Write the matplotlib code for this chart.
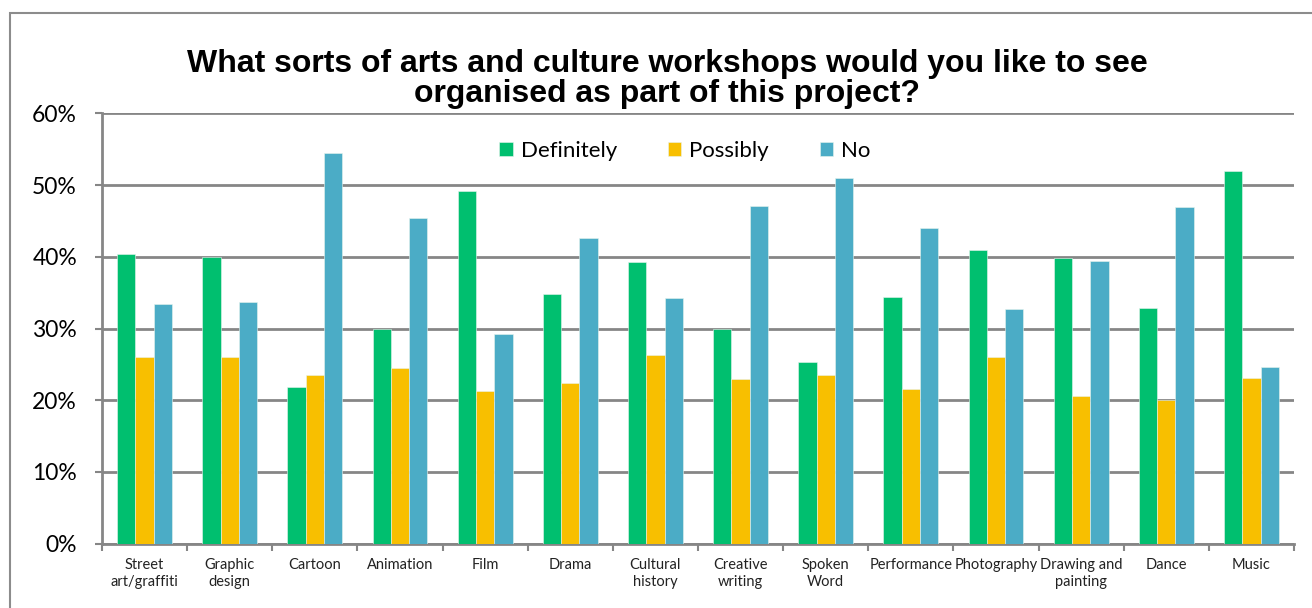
import matplotlib
matplotlib.use('Agg')
import matplotlib.pyplot as plt
import numpy as np
from matplotlib.patches import Rectangle
from matplotlib.ticker import PercentFormatter

# survey answers, percent of respondents
categories = ['Street\nart/graffiti', 'Graphic\ndesign', 'Cartoon', 'Animation', 'Film',
              'Drama', 'Cultural\nhistory', 'Creative\nwriting', 'Spoken\nWord',
              'Performance', 'Photography', 'Drawing and\npainting', 'Dance', 'Music']
definitely = [40.4, 40.0, 21.9, 29.9, 49.2, 34.8, 39.3, 29.9, 25.3, 34.4, 40.9, 39.8, 32.8, 52.0]
possibly = [26.0, 26.0, 23.5, 24.5, 21.3, 22.4, 26.3, 23.0, 23.5, 21.5, 26.0, 20.6, 20.0, 23.1]
no = [33.4, 33.7, 54.5, 45.4, 29.3, 42.6, 34.2, 47.1, 51.0, 44.0, 32.7, 39.4, 46.9, 24.7]

series = [('Definitely', definitely, '#00BF6F'),
          ('Possibly', possibly, '#F8BF00'),
          ('No', no, '#4BACC6')]

W, H = 1312, 608
fig = plt.figure(figsize=(W / 100, H / 100), dpi=100)
ax = fig.add_axes([102.0 / W, 1 - 543.7 / H, (1294 - 102.0) / W, (543.7 - 113.3) / H])

# outer chart frame
fig.patches.append(Rectangle((9.5 / W, -0.1), 1.2, 1 - 13.3 / H + 0.1, transform=fig.transFigure,
                             fill=False, edgecolor='#8c8c8c', linewidth=1.5))

x = np.arange(len(categories))
bw = 0.215
for i, (name, vals, col) in enumerate(series):
    ax.bar(x + (i - 1) * bw, vals, bw, color=col, label=name, zorder=3,
           edgecolor='#e8f4ee', linewidth=0.4)

ax.set_xlim(-0.5, len(categories) - 0.5)
ax.set_ylim(0, 60)
ax.set_yticks(range(0, 61, 10))
ax.yaxis.set_major_formatter(PercentFormatter(decimals=0))
ax.grid(axis='y', color='#868686', linewidth=2, zorder=0)

ax.set_xticks(x)
ax.set_xticklabels(categories, fontsize=10.5, family='Lato', color='#222222', linespacing=1.35)
ax.set_xticks(np.arange(-0.5, len(categories)), minor=True)
ax.tick_params(axis='x', which='major', length=0, pad=10)
ax.tick_params(axis='x', which='minor', length=5, width=1.5, color='#868686')
ax.tick_params(axis='y', length=5, width=1.5, color='#868686', labelsize=16.5, pad=13)
for lab in ax.get_yticklabels():
    lab.set_family('Lato')

for side in ['top', 'right']:
    ax.spines[side].set_visible(False)
for side in ['left', 'bottom']:
    ax.spines[side].set_color('#868686')
    ax.spines[side].set_linewidth(2)

ax.legend(loc='center', bbox_to_anchor=(0.489, 0.912), ncol=3, frameon=False,
          prop={'family': 'Lato', 'size': 16}, handlelength=0.6, handleheight=0.6,
          columnspacing=2.3, handletextpad=0.35)

fig.text(667 / W, 1 - 79 / H,
         'What sorts of arts and culture workshops would you like to see\norganised as part of this project?',
         ha='center', va='center', fontsize=23, fontweight='bold', family='Liberation Sans',
         linespacing=1.0)

fig.savefig('out.png', dpi=100)
